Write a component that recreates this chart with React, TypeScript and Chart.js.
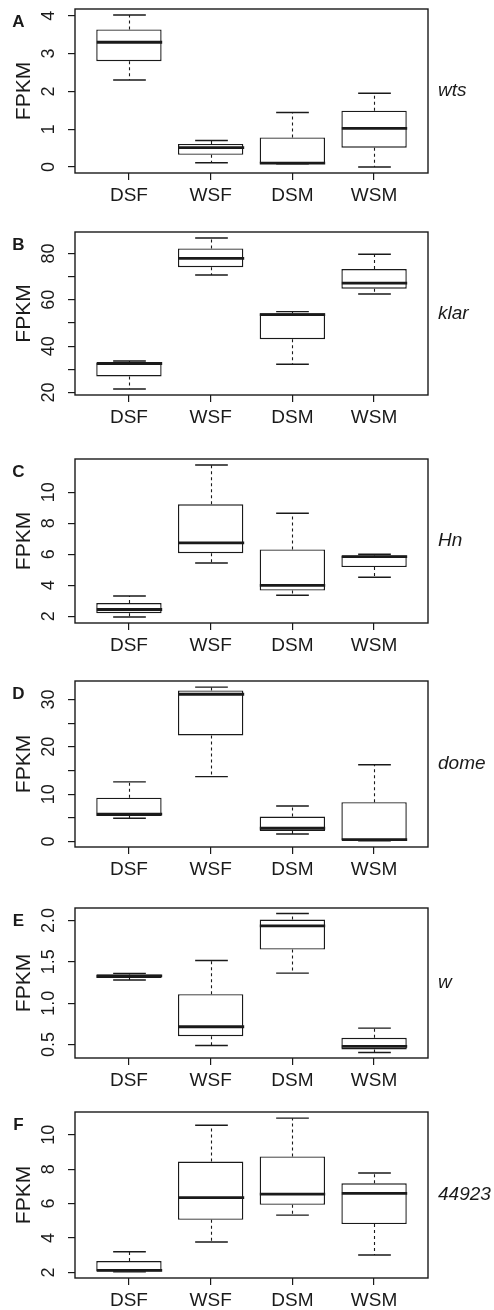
import React, { useEffect, useRef } from 'react';
import { Chart, registerables } from 'chart.js';

Chart.register(...registerables);

// ---------------- data ----------------
const categories = ['DSF', 'WSF', 'DSM', 'WSM'];
const panelLetters = ['A', 'B', 'C', 'D', 'E', 'F'];
const geneNames = ['wts', 'klar', 'Hn', 'dome', 'w', '44923'];

// five-number summaries per category: [min, q1, median, q3, max]
const wtsStats = [
  [2.3, 2.8, 3.3, 3.64, 4.02],
  [0.11, 0.32, 0.51, 0.61, 0.7],
  [0.08, 0.09, 0.1, 0.78, 1.44],
  [0.0, 0.51, 1.02, 1.49, 1.95],
];
const klarStats = [
  [21.5, 26.9, 32.5, 32.9, 33.6],
  [70.7, 74.1, 77.9, 82.2, 86.7],
  [32.2, 43.0, 53.6, 54.2, 54.9],
  [62.5, 64.8, 67.2, 73.3, 79.7],
];
const hnStats = [
  [1.95, 2.19, 2.43, 2.85, 3.3],
  [5.43, 6.07, 6.74, 9.23, 11.76],
  [3.35, 3.65, 3.99, 6.31, 8.65],
  [4.51, 5.17, 5.84, 5.92, 6.0],
];
const domeStats = [
  [4.9, 5.4, 5.8, 9.25, 12.6],
  [13.7, 22.4, 31.1, 31.9, 32.6],
  [1.6, 2.24, 2.8, 5.26, 7.5],
  [0.14, 0.28, 0.42, 8.3, 16.2],
];
const wStats = [
  [1.28, 1.306, 1.33, 1.347, 1.36],
  [0.488, 0.6, 0.714, 1.109, 1.516],
  [1.363, 1.649, 1.935, 2.012, 2.085],
  [0.403, 0.44, 0.476, 0.58, 0.698],
];
const g44923Stats = [
  [2.04, 2.06, 2.12, 2.67, 3.21],
  [3.77, 5.06, 6.35, 8.44, 10.55],
  [5.33, 5.93, 6.55, 8.74, 10.96],
  [3.02, 4.81, 6.6, 7.18, 7.78],
];

// y-axis ticks and their labels
const wtsTicks = [0, 1, 2, 3, 4];
const wtsTickLabels = ['0', '1', '2', '3', '4'];
const klarTicks = [20, 30, 40, 50, 60, 70, 80];
const klarTickLabels = ['20', '', '40', '', '60', '', '80'];
const hnTicks = [2, 4, 6, 8, 10];
const hnTickLabels = ['2', '4', '6', '8', '10'];
const domeTicks = [0, 5, 10, 15, 20, 25, 30];
const domeTickLabels = ['0', '', '10', '', '20', '', '30'];
const wTicks = [0.5, 1.0, 1.5, 2.0];
const wTickLabels = ['0.5', '1.0', '1.5', '2.0'];
const g44923Ticks = [2, 4, 6, 8, 10];
const g44923TickLabels = ['2', '4', '6', '8', '10'];

const yAxisTitle = 'FPKM';

const panelStats = [wtsStats, klarStats, hnStats, domeStats, wStats, g44923Stats];
const panelTicks = [wtsTicks, klarTicks, hnTicks, domeTicks, wTicks, g44923Ticks];
const panelTickLabels = [wtsTickLabels, klarTickLabels, hnTickLabels, domeTickLabels, wTickLabels, g44923TickLabels];

// ---------------- layout / style ----------------
const W = 494;
const boxTops = [9, 232, 459, 681, 908, 1112];
const boxHeights = [164, 163, 164, 166, 150, 166];
const PLOT_LEFT = 75;
const PLOT_RIGHT = 428;
const TOP_PAD = 9;
const BOTTOM_SPACE = 36;
const INK = '#1a1a1a';
const FONT = '"Liberation Sans", Arial, Helvetica, sans-serif';

function Panel({ index }: { index: number }) {
  const ref = useRef<HTMLCanvasElement | null>(null);
  const h = boxHeights[index] + TOP_PAD + BOTTOM_SPACE;

  useEffect(() => {
    const stats = panelStats[index];
    const ticks = panelTicks[index];
    const tickLabels = panelTickLabels[index];
    const all = stats.flat();
    const lo = Math.min(...all);
    const hi = Math.max(...all);
    const ext = (hi - lo) * 0.04;
    const n = categories.length;

    const decor = {
      id: 'boxDecor',
      afterDatasetsDraw(chart: any) {
        const ctx = chart.ctx;
        const xs = chart.scales.x;
        const ys = chart.scales.y;
        const meta = chart.getDatasetMeta(0);
        ctx.save();
        ctx.strokeStyle = INK;
        stats.forEach((s, i) => {
          const cx = Math.round(xs.getPixelForValue(i + 1)) + 0.5;
          const bw = meta.data[i].width;
          const half = bw / 2;
          const yMin = ys.getPixelForValue(s[0]);
          const yQ1 = ys.getPixelForValue(s[1]);
          const yMed = ys.getPixelForValue(s[2]);
          const yQ3 = ys.getPixelForValue(s[3]);
          const yMax = ys.getPixelForValue(s[4]);
          // whiskers (dashed)
          ctx.lineWidth = 1.1;
          ctx.setLineDash([3, 3]);
          ctx.beginPath();
          ctx.moveTo(cx, yQ3);
          ctx.lineTo(cx, yMax);
          ctx.moveTo(cx, yQ1);
          ctx.lineTo(cx, yMin);
          ctx.stroke();
          ctx.setLineDash([]);
          // staples
          ctx.lineWidth = 1.4;
          ctx.beginPath();
          ctx.moveTo(cx - half / 2, yMax);
          ctx.lineTo(cx + half / 2, yMax);
          ctx.moveTo(cx - half / 2, yMin);
          ctx.lineTo(cx + half / 2, yMin);
          ctx.stroke();
          // median
          ctx.lineWidth = 2.8;
          ctx.beginPath();
          ctx.moveTo(cx - half, yMed);
          ctx.lineTo(cx + half, yMed);
          ctx.stroke();
        });
        ctx.restore();
      },
      afterDraw(chart: any) {
        const ctx = chart.ctx;
        const a = chart.chartArea;
        const ys = chart.scales.y;
        ctx.save();
        // frame
        ctx.strokeStyle = INK;
        ctx.lineWidth = 1.4;
        ctx.strokeRect(a.left, a.top, a.right - a.left, a.bottom - a.top);
        ctx.fillStyle = INK;
        // y tick labels (rotated like R)
        ctx.font = `18px ${FONT}`;
        ctx.textAlign = 'center';
        ctx.textBaseline = 'middle';
        ys.ticks.forEach((t: any) => {
          if (!t.label) return;
          const py = ys.getPixelForValue(t.value);
          ctx.save();
          ctx.translate(a.left - 26, py);
          ctx.rotate(-Math.PI / 2);
          ctx.fillText(String(t.label), 0, 0);
          ctx.restore();
        });
        const midY = (a.top + a.bottom) / 2;
        // y axis title
        ctx.save();
        ctx.font = `21px ${FONT}`;
        ctx.translate(24, midY);
        ctx.rotate(-Math.PI / 2);
        ctx.fillText(yAxisTitle, 0, 0);
        ctx.restore();
        // panel letter
        ctx.font = `bold 17px ${FONT}`;
        ctx.fillText(panelLetters[index], 18.5, a.top + 13);
        // gene name
        ctx.font = `italic 19px ${FONT}`;
        ctx.textAlign = 'left';
        ctx.fillText(geneNames[index], 438, midY);
        ctx.restore();
      },
    };

    const chart = new Chart(ref.current as HTMLCanvasElement, {
      type: 'bar',
      data: {
        datasets: [
          {
            data: stats.map((s, i) => ({ x: i + 1, y: [s[1], s[3]] })) as any,
            backgroundColor: '#ffffff',
            borderColor: INK,
            borderWidth: 1.4,
            borderSkipped: false,
            barPercentage: 1,
            categoryPercentage: 0.8,
          },
        ],
      },
      options: {
        animation: false,
        responsive: false,
        events: [],
        layout: { padding: { left: 0, right: W - PLOT_RIGHT, top: TOP_PAD, bottom: 0 } },
        plugins: { legend: { display: false }, tooltip: { enabled: false } },
        scales: {
          x: {
            type: 'linear',
            offset: false,
            min: 0.5 - 0.04 * n,
            max: n + 0.5 + 0.04 * n,
            afterBuildTicks: (s: any) => {
              s.ticks = categories.map((_, i) => ({ value: i + 1 }));
            },
            afterFit: (s: any) => {
              s.height = BOTTOM_SPACE;
            },
            ticks: {
              callback: (v: any) => categories[Math.round(v) - 1] ?? '',
              autoSkip: false,
              maxRotation: 0,
              minRotation: 0,
              padding: 4,
              color: INK,
              font: { family: FONT, size: 19 },
            },
            grid: { display: true, offset: false, drawOnChartArea: false, drawTicks: true, tickLength: 7, color: INK, lineWidth: 1.2 },
            border: { display: false },
          },
          y: {
            type: 'linear',
            min: lo - ext,
            max: hi + ext,
            afterBuildTicks: (s: any) => {
              s.ticks = ticks.map((v) => ({ value: v }));
            },
            afterFit: (s: any) => {
              s.width = PLOT_LEFT;
            },
            ticks: {
              display: false,
              callback: (v: any) => {
                const k = ticks.findIndex((t) => Math.abs(t - v) < 1e-9);
                return k >= 0 ? tickLabels[k] : '';
              },
            },
            grid: { display: true, drawOnChartArea: false, drawTicks: true, tickLength: 7, color: INK, lineWidth: 1.2 },
            border: { display: false },
          },
        },
      } as any,
      plugins: [decor],
    });
    return () => chart.destroy();
  }, [index]);

  return (
    <canvas
      ref={ref}
      width={W}
      height={h}
      style={{ position: 'absolute', left: 0, top: boxTops[index] - TOP_PAD, width: W, height: h }}
    />
  );
}

export default function App() {
  return (
    <div style={{ position: 'absolute', left: 0, top: 0, width: W, height: 1310, overflow: 'hidden', background: '#fff' }}>
      {panelLetters.map((_, i) => (
        <Panel key={i} index={i} />
      ))}
    </div>
  );
}
